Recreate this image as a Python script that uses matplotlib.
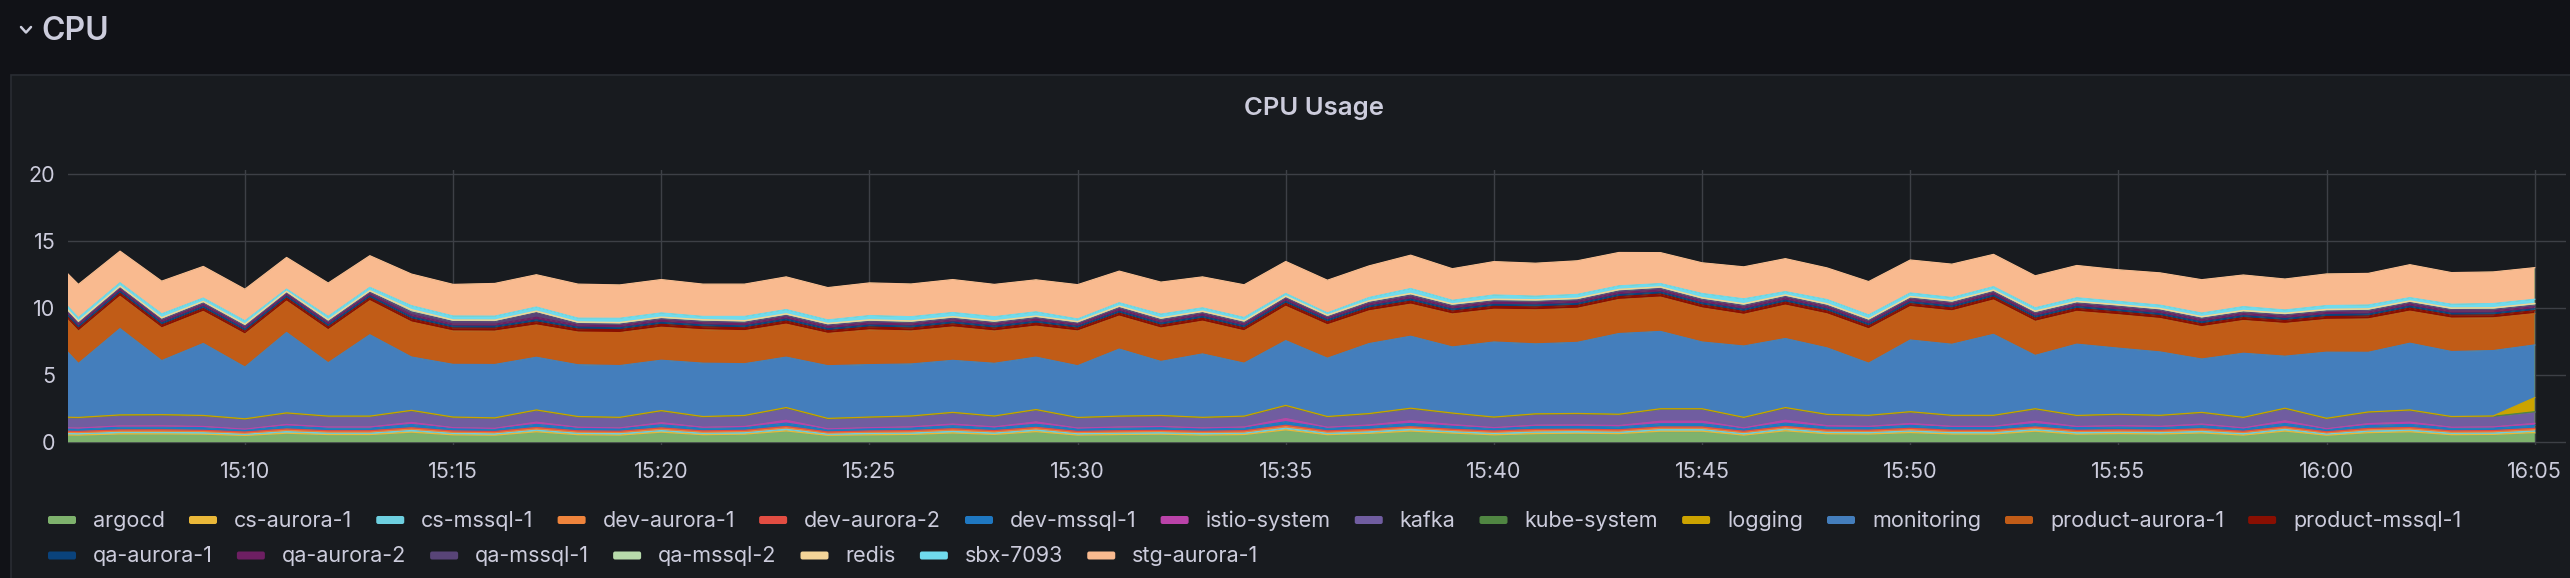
import matplotlib
matplotlib.use("Agg")
import matplotlib.pyplot as plt
import matplotlib.dates as mdates
from matplotlib.patches import Rectangle, FancyBboxPatch
from matplotlib.transforms import IdentityTransform
import pandas as pd

# ---------------- data (15:05 .. 16:05, one point per minute) ----------------
times = pd.date_range("2024-01-01 15:05", periods=61, freq="min")

argocd = [.49, .46, .54, .55, .53, .44, .59, .50, .50, .67,
          .48, .45, .70, .49, .46, .67, .49, .53, .76, .45,
          .48, .51, .61, .51, .71, .46, .50, .53, .46, .50,
          .84, .49, .59, .75, .61, .48, .57, .59, .57, .74,
          .74, .46, .77, .56, .54, .64, .54, .54, .74, .53,
          .57, .54, .61, .46, .75, .45, .64, .70, .49, .51,
          .65]
cs_aurora_1 = [.06, .06, .07, .06, .06, .05, .07, .06, .06, .07,
               .06, .06, .07, .06, .06, .07, .06, .06, .07, .05,
               .06, .06, .07, .06, .07, .06, .06, .06, .06, .06,
               .07, .06, .06, .07, .06, .06, .06, .07, .06, .07,
               .07, .06, .07, .06, .06, .07, .06, .06, .07, .06,
               .06, .06, .07, .06, .07, .06, .06, .07, .06, .06,
               .06]
cs_mssql_1 = [.10, .10, .11, .10, .10, .09, .11, .10, .10, .12,
              .10, .10, .11, .10, .10, .11, .10, .10, .12, .09,
              .10, .10, .11, .10, .11, .10, .10, .10, .10, .10,
              .12, .10, .11, .12, .10, .10, .11, .11, .10, .11,
              .11, .10, .12, .10, .10, .11, .10, .10, .11, .10,
              .10, .10, .11, .10, .12, .09, .11, .11, .10, .10,
              .11]
dev_aurora_1 = [.10, .09, .10, .11, .10, .09, .11, .10, .10, .11,
                .10, .09, .11, .10, .10, .11, .10, .10, .12, .09,
                .10, .10, .11, .10, .11, .09, .10, .10, .10, .10,
                .12, .10, .10, .11, .10, .10, .11, .10, .10, .11,
                .11, .10, .11, .10, .10, .11, .10, .10, .11, .10,
                .10, .10, .11, .10, .11, .09, .11, .11, .10, .10,
                .11]
dev_aurora_2 = [.08, .08, .08, .09, .08, .07, .09, .08, .08, .09,
                .08, .08, .09, .08, .08, .09, .08, .08, .09, .07,
                .08, .08, .09, .08, .09, .08, .08, .08, .08, .08,
                .10, .08, .08, .09, .08, .08, .09, .08, .08, .09,
                .09, .08, .09, .08, .08, .09, .08, .08, .09, .08,
                .08, .08, .09, .08, .09, .07, .09, .09, .08, .08,
                .09]
dev_mssql_1 = [.20, .19, .21, .20, .20, .18, .22, .20, .20, .24,
               .19, .19, .23, .20, .19, .23, .20, .20, .25, .18,
               .19, .20, .22, .20, .23, .19, .20, .20, .19, .20,
               .26, .20, .21, .24, .22, .19, .21, .21, .21, .24,
               .24, .19, .25, .21, .20, .22, .20, .20, .24, .20,
               .21, .20, .22, .19, .24, .18, .22, .23, .20, .20,
               .22]
istio_system = [.07, .06, .09, .10, .09, .04, .12, .08, .08, .16,
                .06, .05, .17, .07, .06, .16, .07, .09, .21, .05,
                .06, .08, .13, .08, .18, .06, .08, .09, .06, .08,
                .24, .07, .12, .20, .13, .06, .11, .12, .11, .19,
                .19, .06, .21, .11, .09, .14, .09, .09, .19, .09,
                .11, .09, .13, .06, .20, .05, .14, .17, .07, .08,
                .15]
kafka = [.74, .73, .76, .77, .76, .71, .79, .75, .75, .83,
         .73, .72, .84, .74, .73, .83, .74, .76, .88, .72,
         .73, .75, .80, .75, .85, .73, .75, .76, .73, .75,
         .91, .74, .79, .87, .80, .73, .78, .79, .78, .86,
         .86, .73, .88, .78, .76, .81, .76, .76, .86, .76,
         .78, .76, .80, .73, .87, .72, .81, .84, .74, .75,
         .82]
kube_system = [.04, .04, .04, .04, .04, .04, .05, .04, .04, .05,
               .04, .04, .05, .04, .04, .05, .04, .04, .05, .04,
               .04, .04, .05, .04, .05, .04, .04, .04, .04, .04,
               .05, .04, .04, .05, .04, .04, .04, .04, .04, .05,
               .05, .04, .05, .04, .04, .05, .04, .04, .05, .04,
               .04, .04, .05, .04, .05, .04, .04, .05, .04, .04,
               .05]
logging_ = [.02, .02, .02, .02, .02, .02, .02, .02, .02, .02,
            .02, .02, .02, .02, .02, .02, .02, .02, .02, .02,
            .02, .02, .02, .02, .02, .02, .02, .02, .02, .02,
            .02, .02, .02, .02, .02, .02, .02, .02, .02, .02,
            .02, .02, .02, .02, .02, .02, .02, .02, .02, .02,
            .02, .02, .02, .02, .02, .02, .02, .02, .02, .02,
            1.05]
monitoring = [7.26, 4.03, 6.44, 4.03, 5.37, 3.86, 6.00, 3.98, 6.07, 3.98,
              3.93, 3.98, 3.93, 3.86, 3.86, 3.76, 3.98, 3.86, 3.76, 3.93,
              3.91, 3.88, 3.88, 3.93, 3.91, 3.86, 5.00, 4.03, 4.73, 3.95,
              4.83, 4.35, 5.22, 5.37, 4.93, 5.60, 5.22, 5.30, 6.02, 5.77,
              4.98, 5.32, 5.15, 4.96, 3.89, 5.35, 5.30, 6.04, 3.98, 5.32,
              4.93, 4.73, 3.98, 4.78, 3.88, 4.93, 4.45, 4.98, 4.85, 4.88,
              3.93]
product_aurora_1 = [2.41, 2.41, 2.41, 2.44, 2.39, 2.46, 2.34, 2.46, 2.54, 2.61,
                    2.49, 2.49, 2.41, 2.44, 2.46, 2.46, 2.49, 2.46, 2.46, 2.41,
                    2.59, 2.46, 2.49, 2.41, 2.31, 2.59, 2.46, 2.49, 2.44, 2.41,
                    2.56, 2.49, 2.44, 2.39, 2.46, 2.44, 2.54, 2.54, 2.54, 2.56,
                    2.54, 2.36, 2.49, 2.54, 2.56, 2.49, 2.49, 2.56, 2.54, 2.44,
                    2.49, 2.49, 2.41, 2.44, 2.44, 2.44, 2.49, 2.39, 2.49, 2.44,
                    2.34]
product_mssql_1 = [.22, .22, .23, .22, .22, .21, .23, .22, .22, .23,
                   .22, .22, .23, .22, .22, .22, .22, .22, .23, .21,
                   .22, .22, .23, .22, .22, .21, .22, .22, .22, .22,
                   .23, .22, .22, .23, .22, .22, .22, .22, .22, .23,
                   .23, .22, .23, .22, .22, .22, .22, .22, .23, .22,
                   .22, .22, .22, .22, .23, .22, .22, .23, .22, .22,
                   .22]
qa_aurora_1 = [.14, .14, .14, .15, .14, .14, .14, .14, .14, .15,
               .14, .14, .15, .14, .14, .14, .14, .14, .15, .14,
               .14, .14, .14, .14, .14, .13, .14, .14, .14, .14,
               .14, .14, .14, .15, .14, .14, .14, .14, .14, .14,
               .14, .15, .14, .14, .14, .14, .14, .14, .14, .14,
               .14, .14, .14, .14, .14, .14, .14, .14, .14, .14,
               .14]
qa_aurora_2 = [.16, .16, .16, .16, .16, .16, .15, .16, .16, .17,
               .16, .16, .20, .16, .16, .16, .16, .16, .16, .16,
               .16, .16, .16, .16, .16, .15, .16, .16, .16, .16,
               .16, .15, .16, .17, .16, .16, .16, .16, .16, .16,
               .16, .17, .16, .16, .16, .16, .16, .16, .16, .16,
               .16, .16, .16, .16, .16, .16, .16, .16, .16, .16,
               .16]
qa_mssql_1 = [.13, .13, .13, .13, .13, .13, .12, .13, .13, .20,
              .20, .20, .35, .13, .13, .13, .13, .13, .13, .13,
              .13, .13, .13, .13, .13, .12, .13, .13, .13, .13,
              .13, .12, .13, .14, .13, .13, .13, .13, .13, .13,
              .13, .14, .13, .13, .13, .13, .13, .13, .13, .13,
              .13, .13, .13, .13, .13, .13, .13, .13, .13, .13,
              .13]
qa_mssql_2 = [.08, .08, .08, .08, .08, .08, .07, .08, .08, .15,
              .08, .08, .08, .08, .08, .08, .08, .08, .08, .08,
              .08, .08, .08, .08, .08, .07, .08, .08, .08, .08,
              .08, .07, .08, .09, .08, .08, .08, .08, .08, .08,
              .08, .09, .08, .08, .08, .08, .08, .08, .08, .08,
              .08, .08, .08, .08, .08, .08, .08, .08, .08, .08,
              .08]
redis = [.03, .03, .03, .03, .03, .03, .03, .03, .03, .03,
         .03, .03, .03, .03, .03, .03, .03, .03, .03, .03,
         .03, .03, .03, .03, .03, .03, .03, .03, .03, .03,
         .03, .03, .03, .03, .03, .03, .03, .03, .03, .03,
         .03, .03, .03, .03, .03, .03, .03, .03, .03, .03,
         .03, .03, .03, .03, .03, .03, .03, .03, .03, .03,
         .03]
sbx_7093 = [.24, .24, .24, .28, .24, .24, .16, .24, .24, .29,
            .29, .29, .30, .28, .31, .31, .24, .31, .31, .26,
            .31, .31, .31, .31, .31, .19, .24, .28, .24, .24,
            .19, .16, .24, .36, .26, .31, .26, .28, .26, .24,
            .31, .36, .24, .31, .28, .26, .24, .24, .24, .26,
            .24, .24, .26, .28, .24, .28, .28, .24, .28, .31,
            .31]
stg_aurora_1 = [2.29, 2.49, 2.36, 2.44, 2.36, 2.36, 2.36, 2.49, 2.36, 2.36,
                2.36, 2.44, 2.41, 2.54, 2.49, 2.49, 2.41, 2.41, 2.44, 2.41,
                2.44, 2.44, 2.46, 2.41, 2.39, 2.56, 2.36, 2.39, 2.31, 2.44,
                2.39, 2.44, 2.36, 2.49, 2.36, 2.49, 2.46, 2.51, 2.49, 2.31,
                2.29, 2.39, 2.46, 2.36, 2.49, 2.46, 2.49, 2.41, 2.39, 2.41,
                2.36, 2.41, 2.49, 2.36, 2.31, 2.36, 2.36, 2.46, 2.36, 2.36,
                2.36]

series_names = ["argocd", "cs-aurora-1", "cs-mssql-1", "dev-aurora-1", "dev-aurora-2",
                "dev-mssql-1", "istio-system", "kafka", "kube-system", "logging",
                "monitoring", "product-aurora-1", "product-mssql-1", "qa-aurora-1",
                "qa-aurora-2", "qa-mssql-1", "qa-mssql-2", "redis", "sbx-7093",
                "stg-aurora-1"]
series_values = [argocd, cs_aurora_1, cs_mssql_1, dev_aurora_1, dev_aurora_2,
                 dev_mssql_1, istio_system, kafka, kube_system, logging_,
                 monitoring, product_aurora_1, product_mssql_1, qa_aurora_1,
                 qa_aurora_2, qa_mssql_1, qa_mssql_2, redis, sbx_7093, stg_aurora_1]
series_colors = ["#7EB26D", "#EAB839", "#6ED0E0", "#EF843C", "#E24D42",
                 "#1F78C1", "#BA43A9", "#705DA0", "#508642", "#CCA300",
                 "#447EBC", "#C15C17", "#890F02", "#0A437C", "#6D1F62",
                 "#584477", "#B7DBAB", "#F4D598", "#70DBED", "#F9BA8F"]
y_ticks = [0, 5, 10, 15, 20]

# ---------------- figure ----------------
W, H = 2570, 578
BG_PAGE = "#111217"
BG_PANEL = "#181b1f"
TXT = "#ccccdc"
FONT = ["Inter", "DejaVu Sans"]
plt.rcParams["font.family"] = FONT

fig = plt.figure(figsize=(W / 100, H / 100), dpi=100)
fig.patch.set_facecolor(BG_PAGE)


def fx(px):
    return px / W


def fy(py):
    return 1 - py / H


# panel background
fig.add_artist(Rectangle((fx(11), fy(620)), fx(2620) - fx(11), fy(75) - fy(620),
                         transform=fig.transFigure, facecolor=BG_PANEL,
                         edgecolor="#2a2d33", linewidth=1.2, zorder=0))

# row header: chevron + "CPU"
fig.add_artist(plt.Line2D([fx(21), fx(26), fx(31)], [fy(27), fy(32.5), fy(27)],
                          transform=fig.transFigure, color=TXT, lw=1.8,
                          solid_capstyle="round", solid_joinstyle="round"))
fig.text(fx(41), fy(40), "CPU", ha="left", va="baseline", fontsize=23,
         fontweight="semibold", color=TXT)

# panel title
fig.text(fx(1314), fy(108), "CPU Usage", ha="center", va="center", fontsize=18.5,
         fontweight="semibold", color=TXT)

# ---------------- plot area ----------------
PX_PER_UNIT = 13.4
Y0 = 442          # pixel row of value 0
AX_TOP, AX_BOT = 170, 445
AX_L, AX_R = 68, 2566
ax = fig.add_axes([fx(AX_L), fy(AX_BOT), fx(AX_R) - fx(AX_L), fy(AX_TOP) - fy(AX_BOT)])
ax.set_facecolor(BG_PANEL)
ax.set_ylim(-(AX_BOT - Y0) / PX_PER_UNIT, (Y0 - AX_TOP) / PX_PER_UNIT)
ax.set_xlim(pd.Timestamp("2024-01-01 15:05:45"), pd.Timestamp("2024-01-01 16:05:45"))

ax.stackplot(times, *series_values, colors=series_colors, linewidth=0.3,
             edgecolors=series_colors, zorder=2)
cum = [0.0] * len(times)
for vals, col in zip(series_values, series_colors):
    cum = [c + v for c, v in zip(cum, vals)]
    ax.plot(times, cum, color=col, lw=0.9, zorder=3)

ax.set_yticks(y_ticks)
ax.xaxis.set_major_locator(mdates.MinuteLocator(byminute=range(0, 60, 5)))
ax.xaxis.set_major_formatter(mdates.DateFormatter("%H:%M"))
ax.grid(True, color="#3d4046", lw=1.0, zorder=1)
ax.set_axisbelow(True)
for s in ax.spines.values():
    s.set_visible(False)
ax.tick_params(axis="both", length=0, colors=TXT, labelsize=15.5)
ax.tick_params(axis="y", pad=9)
ax.tick_params(axis="x", pad=12)

# ---------------- legend (flow layout) ----------------
renderer = fig.canvas.get_renderer()
x = 48
row_y = [520, 555.5]
row = 0
SW, SH = 28, 8
for name, col in zip(series_names, series_colors):
    t = fig.text(0, 0, name, fontsize=15.5, color=TXT, ha="left", va="center")
    tw = t.get_window_extent(renderer).width
    if x + SW + 17 + tw > 2545:
        row += 1
        x = 48
    yc = row_y[row]
    fig.add_artist(FancyBboxPatch((x, H - yc - SH / 2), SW, SH,
                                  boxstyle="round,pad=0,rounding_size=2",
                                  transform=IdentityTransform(), facecolor=col,
                                  edgecolor="none"))
    t.set_position((fx(x + SW + 17), fy(yc + 1)))
    x += SW + 17 + tw + 24

fig.savefig("out.png", dpi=100, facecolor=BG_PAGE)
